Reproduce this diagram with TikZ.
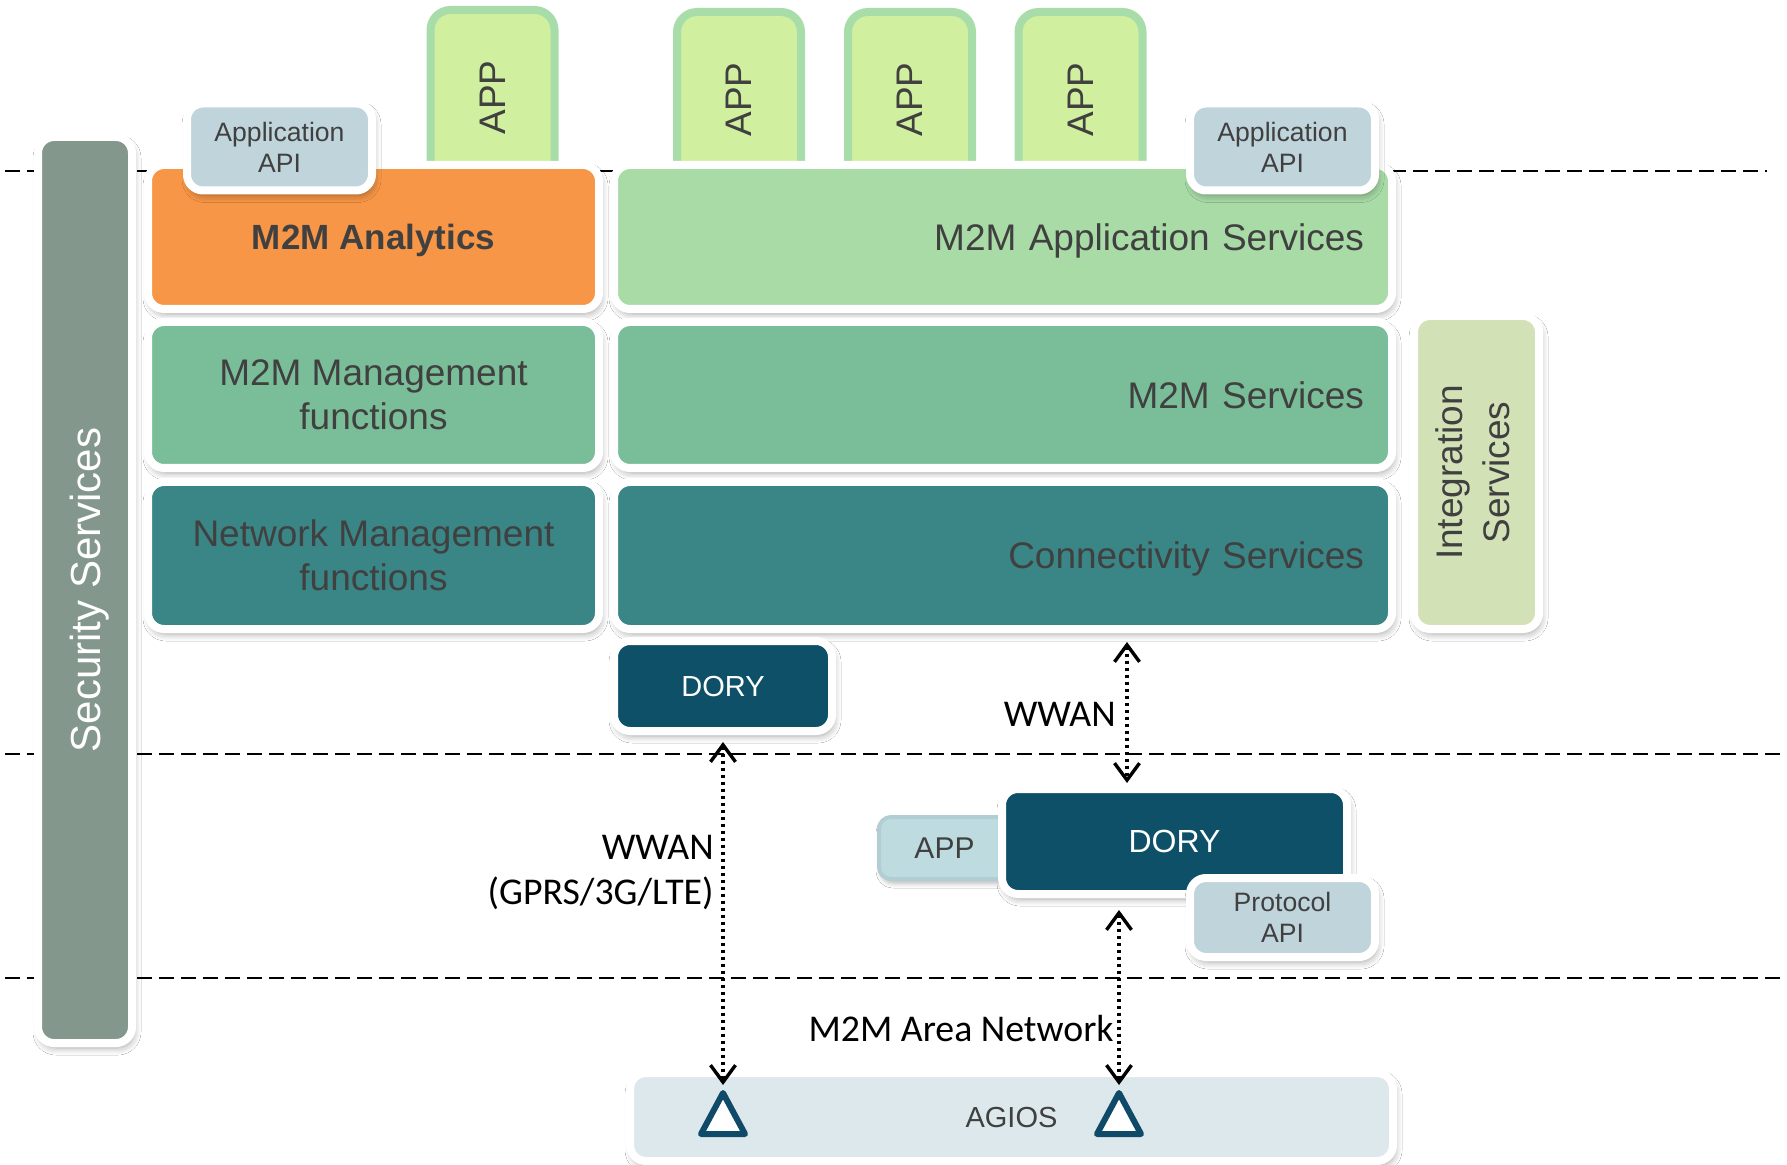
\documentclass[tikz,border=0pt]{standalone}
\usepackage{fontspec}
\setmainfont{Liberation Sans}
\newfontfamily\carl{Carlito}
\usepackage{graphicx}
\usetikzlibrary{shadows,shadows.blur,arrows.meta}
\definecolor{txt}{RGB}{64,64,64}
\definecolor{secgray}{RGB}{131,151,141}
\definecolor{anaorange}{RGB}{247,150,70}
\definecolor{appgreen}{RGB}{168,219,166}
\definecolor{mgmtgreen}{RGB}{122,189,153}
\definecolor{teal}{RGB}{58,133,133}
\definecolor{integ}{RGB}{211,225,183}
\definecolor{appfill}{RGB}{208,240,160}
\definecolor{appborder}{RGB}{168,220,168}
\definecolor{apifill}{RGB}{192,212,219}
\definecolor{dory}{RGB}{13,80,104}
\definecolor{applfill}{RGB}{190,220,224}
\definecolor{applborder}{RGB}{178,205,212}
\definecolor{agios}{RGB}{221,232,236}
\definecolor{tricol}{RGB}{16,74,105}
\newcommand\setfs[2]{\fontsize{#1}{#2}\selectfont}
\newcommand\nodepth[1]{\raisebox{0pt}[\height][0pt]{#1}}
\begin{document}
\begin{tikzpicture}[x=0.5pt,y=-0.5pt,
  box/.style={draw=white, line width=4pt, rounded corners=8pt, inner sep=0pt, text=txt, text depth=0pt,
    blur shadow={shadow xshift=1pt, shadow yshift=-2.5pt, shadow blur radius=3.5pt, shadow blur steps=6, shadow opacity=35}},
  layer/.style={box, minimum width=225.5pt, minimum height=73pt, align=center, font=\setfs{18.5}{22}},
  rlayer/.style={box, minimum width=389pt, minimum height=73pt, text width=361pt, align=right, font=\setfs{18.5}{22}},
  appbox/.style={draw=appborder, fill=appfill, line width=4pt, rounded corners=10pt, inner sep=0pt,
    text=txt, minimum width=62pt, minimum height=87.5pt, font=\setfs{18.5}{22}},
  apibox/.style={box, fill=apifill, minimum width=92.5pt, minimum height=43.5pt, align=center, font=\setfs{13.3}{15.5}},
  dorybox/.style={box, fill=dory, text=white},
  dline/.style={draw=black, line width=1.1pt, dash pattern=on 7.5pt off 3.5pt},
  myarr/.style={line width=2pt, dash pattern=on 1.7pt off 1.8pt,
    {Straight Barb[length=8.5pt,width=12.5pt,line width=1.7pt]}-{Straight Barb[length=8.5pt,width=12.5pt,line width=1.7pt]}},
  tri/.style={draw=tricol, fill=white, line width=3pt, line join=round},
  lbl/.style={font=\carl\setfs{18.9}{22.5}, inner sep=0pt, text=black}]

\fill[white] (0,0) rectangle (1787,1165);
\useasboundingbox (0,0) rectangle (1787,1165);

% dashed separators
\draw[dline] (5,171) -- (1767,171);
\draw[dline] (5,754) -- (1787,754);
\draw[dline] (5,978) -- (1787,978);

% top APP boxes
\node[appbox] (app1) at (492.5,97.5) {\rotatebox{90}{APP}};
\node[appbox] (app2) at (739,99.5) {\rotatebox{90}{APP}};
\node[appbox] (app3) at (910,99.5) {\rotatebox{90}{APP}};
\node[appbox] (app4) at (1080.5,99.5) {\rotatebox{90}{APP}};

% security bar
\node[box, fill=secgray, text=white, minimum width=47pt, minimum height=453pt, font=\setfs{21}{25}] (sec) at (85,590) {\rotatebox{90}{\nodepth{Security Services}}};

% layers
\node[layer, fill=anaorange, minimum height=72pt, font=\bfseries\setfs{17.5}{21}] (ana) at (373.5,237) {M2M Analytics};
\node[rlayer, fill=appgreen, minimum height=72pt] (appsvc) at (1003,237) {M2M Application Services};
\node[layer, fill=mgmtgreen] (mgmt) at (373.5,395) {M2M Management\\functions};
\node[rlayer, fill=mgmtgreen] (m2msvc) at (1003,395) {M2M Services};
\node[layer, fill=teal, minimum height=73.5pt] (netm) at (373.5,555.5) {Network Management\\functions};
\node[rlayer, fill=teal, minimum height=73.5pt] (conn) at (1003,555.5) {Connectivity Services};

% API boxes
\node[apibox] (api1) at (279.5,147) {Application\\API};
\node[apibox] (api2) at (1282.5,147) {Application\\API};

% integration
\node[box, fill=integ, minimum width=62.5pt, minimum height=156.5pt, font=\setfs{18.5}{23.5}] (integ) at (1476.5,472.5)
  {\rotatebox{90}{\begin{tabular}{@{}c@{}}Integration\\Services\end{tabular}}};

% DORY upper
\node[dorybox, minimum width=109pt, minimum height=45pt, font=\setfs{14.5}{17}] (dory1) at (723,686) {DORY};

% lower gateway
\node[draw=applborder, fill=applfill, line width=2pt, rounded corners=6pt, inner sep=0pt, text=txt,
  minimum width=65.5pt, minimum height=31pt, font=\setfs{15}{18},
  blur shadow={shadow xshift=1pt, shadow yshift=-2pt, shadow blur radius=2.5pt, shadow blur steps=5, shadow opacity=30}] (appl) at (944.5,848) {APP};
\node[dorybox, minimum width=172.5pt, minimum height=52.5pt, font=\setfs{16}{19}] (dory2) at (1174.5,841.5) {DORY};
\node[apibox, minimum height=39.5pt] (proto) at (1282.5,917.5) {Protocol\\API};

% AGIOS
\node[box, fill=agios, minimum width=381.5pt, minimum height=44pt, font=\setfs{14.5}{17}] (agios) at (1011.5,1117) {AGIOS};

% antennas
\draw[tri] (723,1093) -- (745,1134) -- (701,1134) -- cycle;
\draw[tri] (1119,1093) -- (1141,1134) -- (1097,1134) -- cycle;
\coordinate (t1top) at (723,1085);
\coordinate (t2top) at (1119,1085);

% connectors
\draw[myarr] ([yshift=-3.5pt]dory1.south) -- (t1top);
\draw[myarr] ([xshift=62pt,yshift=-4.5pt]conn.south) -- ([xshift=-23.75pt,yshift=1pt]dory2.north);
\draw[myarr] ([xshift=-27.75pt,yshift=-6pt]dory2.south) -- (t2top);

% labels
\node[lbl, anchor=east] (lw1) at (1116,714) {WWAN};
\node[lbl, anchor=east, align=right] (lw2) at (714,872) {WWAN\\(GPRS/3G/LTE)};
\node[lbl] (lman) at (961,1029) {M2M Area Network};
\end{tikzpicture}
\end{document}
